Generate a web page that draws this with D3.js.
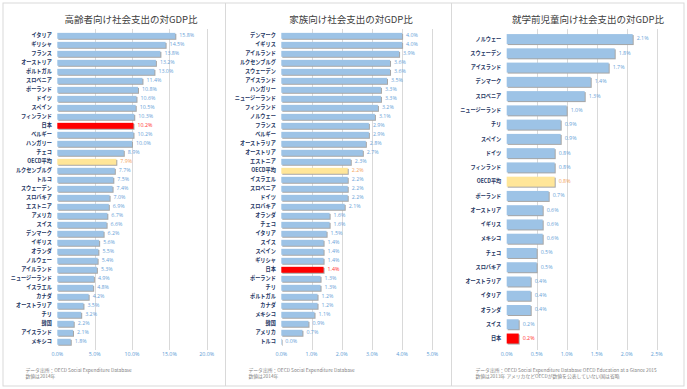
<!DOCTYPE html>
<html>
<head>
<meta charset="utf-8">
<script src="https://cdn.jsdelivr.net/npm/d3@7"></script>
<style>
  body { margin: 0; background: #fff; }
  svg { display: block; }
  text { font-family: "Noto Sans CJK JP", "Noto Sans", sans-serif; }
</style>
</head>
<body>
<svg id="chart" width="687" height="389"></svg>
<script>
// 高齢者向け
var agedNames = ["イタリア", "ギリシャ", "フランス", "オーストリア", "ポルトガル", "スロベニア", "ポーランド", "ドイツ", "スペイン", "フィンランド", "日本", "ベルギー", "ハンガリー", "チェコ", "OECD平均", "ルクセンブルグ", "トルコ", "スウェーデン", "スロバキア", "エストニア", "アメリカ", "スイス", "デンマーク", "イギリス", "オランダ", "ノルウェー", "アイルランド", "ニュージーランド", "イスラエル", "カナダ", "オーストラリア", "チリ", "韓国", "アイスランド", "メキシコ"];
var agedValues = [15.8, 14.5, 13.8, 13.2, 13.0, 11.4, 10.8, 10.6, 10.5, 10.3, 10.2, 10.2, 10.0, 8.9, 7.9, 7.7, 7.5, 7.4, 7.0, 6.9, 6.7, 6.6, 6.2, 5.6, 5.5, 5.4, 5.3, 4.9, 4.8, 4.2, 3.5, 3.2, 2.2, 2.1, 1.8];
var agedTicks = [0, 5, 10, 15, 20];

// 家族向け
var familyNames = ["デンマーク", "イギリス", "アイルランド", "ルクセンブルグ", "スウェーデン", "アイスランド", "ハンガリー", "ニュージーランド", "フィンランド", "ノルウェー", "フランス", "ベルギー", "オーストラリア", "オーストリア", "エストニア", "OECD平均", "イスラエル", "スロベニア", "ドイツ", "スロバキア", "オランダ", "チェコ", "イタリア", "スイス", "スペイン", "ギリシャ", "日本", "ポーランド", "チリ", "ポルトガル", "カナダ", "メキシコ", "韓国", "アメリカ", "トルコ"];
var familyValues = [4.0, 4.0, 3.9, 3.6, 3.6, 3.5, 3.3, 3.3, 3.2, 3.1, 2.9, 2.9, 2.8, 2.7, 2.3, 2.2, 2.2, 2.2, 2.2, 2.1, 1.6, 1.6, 1.5, 1.4, 1.4, 1.4, 1.4, 1.3, 1.3, 1.2, 1.2, 1.1, 0.9, 0.7, 0.0];
var familyTicks = [0, 1, 2, 3, 4, 5];

// 就学前児童向け
var preschoolNames = ["ノルウェー", "スウェーデン", "アイスランド", "デンマーク", "スロベニア", "ニュージーランド", "チリ", "スペイン", "ドイツ", "フィンランド", "OECD平均", "ポーランド", "オーストリア", "イギリス", "メキシコ", "チェコ", "スロバキア", "オーストラリア", "イタリア", "オランダ", "スイス", "日本"];
var preschoolValues = [2.1, 1.8, 1.7, 1.4, 1.3, 1.0, 0.9, 0.9, 0.8, 0.8, 0.8, 0.7, 0.6, 0.6, 0.6, 0.5, 0.5, 0.4, 0.4, 0.4, 0.2, 0.2];
var preschoolTicks = [0, 0.5, 1, 1.5, 2, 2.5];

var titles = ["高齢者向け社会支出の対GDP比", "家族向け社会支出の対GDP比", "就学前児童向け社会支出の対GDP比"];
var sources = [
    ["データ出所：OECD Social Expenditure Database", "数値は2014年"],
    ["データ出所：OECD Social Expenditure Database", "数値は2014年"],
    ["データ出所：OECD Social Expenditure Database  OECD Education at a Glance 2015", "数値は2013年  アメリカなどOECDが数値を公表していない国は省略"]
];

var svg = d3.select("#chart");

// frame
svg.append("rect").attr("x", 3).attr("y", 3).attr("width", 681).attr("height", 383)
    .attr("fill", "none").attr("stroke", "#d9d9d9");
[225.5, 451.5].forEach(function (x) {
    svg.append("line").attr("x1", x).attr("x2", x).attr("y1", 3).attr("y2", 386)
        .attr("stroke", "#d9d9d9");
});

var panels = [
    {names: agedNames, values: agedValues, ticks: agedTicks, x0: 57.3, x1: 206.7, title: titles[0], tx: 131, src: sources[0], sx: 25.5, pad: 0.34},
    {names: familyNames, values: familyValues, ticks: familyTicks, x0: 281.3, x1: 432.3, title: titles[1], tx: 351, src: sources[1], sx: 248.5, pad: 0.34},
    {names: preschoolNames, values: preschoolValues, ticks: preschoolTicks, x0: 506.7, x1: 656.7, title: titles[2], tx: 588, src: sources[2], sx: 475.5, pad: 0.3}
];

function draw_panel(p) {
    var g = svg.append("g");
    var x = d3.scaleLinear().domain([0, p.ticks[p.ticks.length - 1]]).range([p.x0, p.x1]);
    var y = d3.scaleBand().domain(p.names).range([29.8, 347.8]).padding(p.pad);
    var rows = p.names.map(function (n, i) { return {name: n, value: p.values[i]}; });

    g.append("text").attr("x", p.tx).attr("y", 20.5)
        .attr("text-anchor", "middle").attr("dominant-baseline", "middle")
        .style("font-size", "9.5px").style("fill", "#404040")
        .text(p.title);

    // gridlines
    g.selectAll(".grid").data(p.ticks.slice(1)).enter().append("line")
        .attr("x1", function (d) { return Math.round(x(d)) + 0.5; })
        .attr("x2", function (d) { return Math.round(x(d)) + 0.5; })
        .attr("y1", 29).attr("y2", 350)
        .attr("stroke", "#d9d9d9").attr("stroke-width", 1);

    // tick labels
    g.selectAll(".tick").data(p.ticks).enter().append("text")
        .attr("x", function (d) { return x(d); })
        .attr("y", 354.5).attr("text-anchor", "middle").attr("dominant-baseline", "middle")
        .style("font-family", "'Open Sans', sans-serif")
        .style("font-size", "5.3px").style("fill", "#5b9bd5")
        .text(function (d) { return d3.format(".1f")(d) + "%"; });

    function colour(d) {
        if (d.name == "日本") return "#ff0000";
        if (d.name == "OECD平均") return "#ffe699";
        return "#9dc3e6";
    }
    function label_colour(d) {
        if (d.name == "日本") return "#ff3333";
        if (d.name == "OECD平均") return "#f4a460";
        return "#6a9fd8";
    }

    // shadows
    g.selectAll(".shadow").data(rows).enter().append("rect")
        .attr("x", x(0) + 1)
        .attr("y", function (d) { return y(d.name) + 1; })
        .attr("width", function (d) { return Math.max(0.6, x(d.value) - x(0)); })
        .attr("height", y.bandwidth())
        .attr("fill", "#a6a6a6");

    g.selectAll(".bar").data(rows).enter().append("rect")
        .attr("x", x(0))
        .attr("y", function (d) { return y(d.name); })
        .attr("width", function (d) { return Math.max(0.6, x(d.value) - x(0)); })
        .attr("height", y.bandwidth())
        .attr("fill", colour);

    // category labels
    g.selectAll(".cat").data(rows).enter().append("text")
        .attr("transform", function (d) {
            return "translate(" + (x(0) - 5.5) + "," + (y(d.name) + y.bandwidth() / 2) + ") scale(0.86,1)";
        })
        .attr("text-anchor", "end").attr("dominant-baseline", "middle")
        .style("font-size", "6px").style("font-weight", "bold").style("fill", "#1f3864")
        .text(function (d) { return d.name; });

    // value labels
    g.selectAll(".val").data(rows).enter().append("text")
        .attr("x", function (d) { return x(d.value) + 4; })
        .attr("y", function (d) { return y(d.name) + y.bandwidth() / 2; })
        .attr("dominant-baseline", "middle")
        .style("font-family", "'Open Sans', sans-serif")
        .style("font-size", "5.3px").style("fill", label_colour)
        .text(function (d) { return d3.format(".1f")(d.value) + "%"; });

    // source
    g.selectAll(".src").data(p.src).enter().append("text")
        .attr("x", p.sx)
        .attr("y", function (d, i) { return 370.5 + i * 6.5; })
        .attr("dominant-baseline", "middle")
        .style("font-size", "4.8px").style("fill", "#7f7f7f")
        .text(function (d) { return d; });
}

panels.forEach(draw_panel);
</script>
</body>
</html>
